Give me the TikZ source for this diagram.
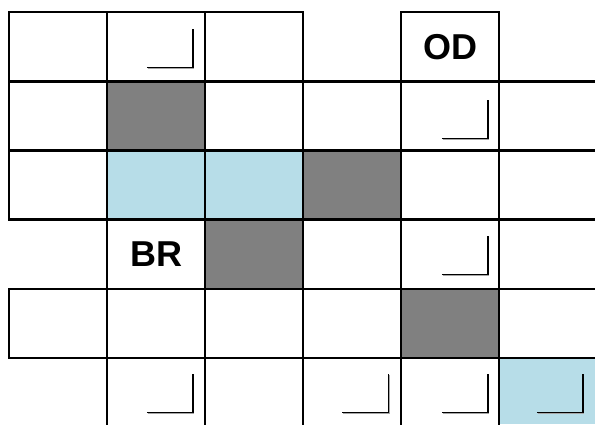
\documentclass[tikz,border=0pt]{standalone}
\usepackage{fontspec}
\setmainfont{Liberation Sans}
\definecolor{cellgray}{HTML}{808080}
\definecolor{cellblue}{HTML}{B7DDE8}
\tikzset{
  gridline/.style={line width=2.2pt, black, line cap=rect},
  darkcell/.style={fill=cellgray},
  bluecell/.style={fill=cellblue},
  marker/.style={line width=1.4pt, black},
  markshadow/.style={line width=1.2pt, black!35},
  celltext/.style={font=\bfseries\fontsize{36}{40}\selectfont, inner sep=0pt, anchor=center}
}
\begin{document}
\begin{tikzpicture}[x=1pt, y=-1pt]
\useasboundingbox (0,0) rectangle (595,424);
\fill[white] (0,0) rectangle (595,424);
% column and row boundaries
\def\cA{9}\def\cB{107.1}\def\cC{205.1}\def\cD{303.2}\def\cE{401.2}\def\cF{499.3}\def\cG{595}
\def\rA{12.3}\def\rB{81.4}\def\rC{150.5}\def\rD{219.5}\def\rE{288.6}\def\rF{357.7}\def\rG{424}
% filled cells
\fill[darkcell] (\cB,\rB) rectangle (\cC,\rC);
\fill[bluecell] (\cB,\rC) rectangle (\cD,\rD);
\fill[darkcell] (\cD,\rC) rectangle (\cE,\rD);
\fill[darkcell] (\cC,\rD) rectangle (\cD,\rE);
\fill[darkcell] (\cE,\rE) rectangle (\cF,\rF);
\fill[bluecell] (\cF,\rF) rectangle (\cG,\rG);
% horizontal lines
\draw[gridline] (\cA,\rA) -- (\cD,\rA);
\draw[gridline] (\cE,\rA) -- (\cF,\rA);
\foreach \yy in {\rB,\rC,\rD,\rE,\rF}
  \draw[gridline] (\cA,\yy) -- (\cG,\yy);
% vertical lines
\draw[gridline] (\cA,\rA) -- (\cA,\rD);
\draw[gridline] (\cA,\rE) -- (\cA,\rF);
\foreach \xx in {\cB,\cC,\cD,\cE,\cF}
  \draw[gridline] (\xx,\rA) -- (\xx,\rG);
% corner marks
\foreach \mx/\my in {192.9/67.3, 487.9/138.4, 487.9/274.3, 192.9/412.7, 388.4/412.7, 487.9/412.7, 582.9/412.7}{
  \draw[markshadow] (\mx-46+0.8,\my+0.8) -- (\mx+0.8,\my+0.8) -- (\mx+0.8,\my-38.5+0.8);
  \draw[marker] (\mx-46,\my) -- (\mx,\my) -- (\mx,\my-38.5);
}
% labels
\node[celltext] (od) at ({(\cE+\cF)/2},{(\rA+\rB)/2}) {OD};
\node[celltext] (br) at ({(\cB+\cC)/2},{(\rD+\rE)/2}) {BR};
\end{tikzpicture}
\end{document}
